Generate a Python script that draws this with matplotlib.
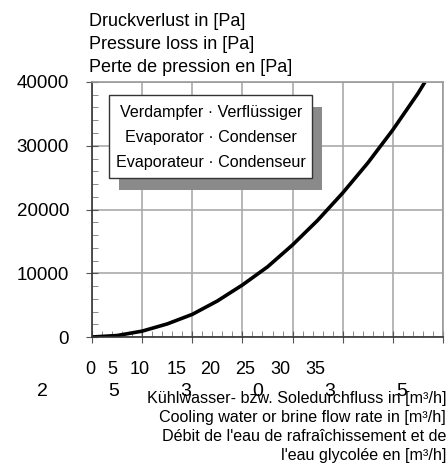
import matplotlib
matplotlib.use("Agg")
import matplotlib.pyplot as plt
from matplotlib.patches import Rectangle
from matplotlib.ticker import MultipleLocator

plt.rcParams['font.family'] = ['Liberation Sans', 'DejaVu Sans']

# flow rate [m3/h] and pressure loss [Pa]
flow = [0, 2.5, 5, 7.5, 10, 12.5, 15, 17.5, 20, 22.5, 25, 27.5, 30, 32.5, 33.2]
pressure = [0, 230, 920, 2050, 3550, 5650, 8160, 11000, 14450, 18300,
            22600, 27300, 32500, 38200, 40000]

y_ticks = [0, 10000, 20000, 30000, 40000]
x_tick_row = ['0', '5', '10', '15', '20', '25', '30', '35']
x_second_row = ['2', '5', '3', '0', '3', '5']
y_title = ["Druckverlust in [Pa]", "Pressure loss in [Pa]", "Perte de pression en [Pa]"]
x_title = ["Kühlwasser- bzw. Soledurchfluss in [m³/h]",
           "Cooling water or brine flow rate in [m³/h]",
           "Débit de l'eau de rafraîchissement et de",
           "l'eau glycolée en [m³/h]"]
box_lines = ["Verdampfer · Verflüssiger", "Evaporator · Condenser", "Evaporateur · Condenseur"]

W, H = 448, 467
fig = plt.figure(figsize=(W / 100, H / 100), dpi=100)
ax = fig.add_axes([92 / W, 1 - 337 / H, 351 / W, 255 / H])

ax.plot(flow, pressure, color='black', lw=2.6, solid_capstyle='butt')
ax.set_xlim(0, 35)
ax.set_ylim(0, 40000)

ax.set_xticks(range(0, 36, 5))
ax.set_xticklabels([])
ax.xaxis.set_minor_locator(MultipleLocator(1))
ax.set_yticks(y_ticks)
ax.set_yticklabels([str(v) for v in y_ticks], fontsize=13.5)
ax.yaxis.set_minor_locator(MultipleLocator(2000))
ax.tick_params(which='major', direction='inout', length=8, color='#555555', pad=12.5)
ax.tick_params(which='minor', direction='in', length=4, color='#777777')
ax.grid(True, which='major', color='#aaaaaa', lw=1.2)
for s in ax.spines.values():
    s.set_color('#999999')
    s.set_linewidth(1.2)
ax.spines['left'].set_color('#333333')
ax.spines['bottom'].set_color('#333333')

# y title lines
for i, t in enumerate(y_title):
    fig.text(89 / W, 1 - (22 + 22.5 * i) / H, t, fontsize=13, ha='left', va='center')

# legend-like box with shadow
fig.add_artist(Rectangle((119 / W, 1 - 190 / H), 203 / W, 83 / H,
                         transform=fig.transFigure, facecolor='#8a8a8a', edgecolor='none'))
fig.add_artist(Rectangle((109 / W, 1 - 178 / H), 203 / W, 83 / H,
                         transform=fig.transFigure, facecolor='white', edgecolor='#333333', lw=1))
for i, t in enumerate(box_lines):
    fig.text(211 / W, 1 - (112 + 25.5 * i) / H, t, fontsize=11.6, ha='center', va='center')

# odd x tick rows
row1_x = [90, 112, 140, 177, 210, 245, 280, 315]
for xp, t in zip(row1_x, x_tick_row):
    fig.text(xp / W, 1 - 370 / H, t, fontsize=13, ha='center', va='center')
for i, t in enumerate(x_second_row):
    fig.text((42 + 72 * i) / W, 1 - 392 / H, t, fontsize=14, ha='center', va='center')

# x title lines
for i, t in enumerate(x_title):
    fig.text(446 / W, 1 - (398 + 19.3 * i) / H, t, fontsize=11.6, ha='right', va='center')

fig.savefig('out.png', dpi=100)
